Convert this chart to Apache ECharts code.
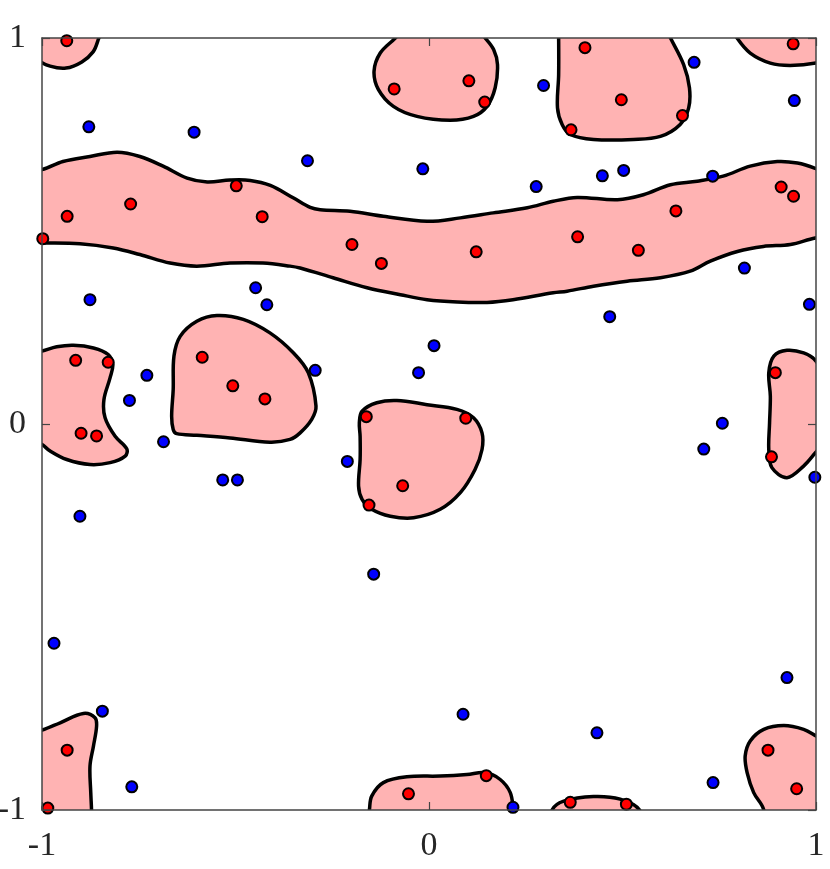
<!DOCTYPE html>
<html>
<head>
<meta charset="utf-8">
<script src="https://cdn.jsdelivr.net/npm/echarts@6/dist/echarts.min.js"></script>
<style>
  html, body { margin: 0; padding: 0; background: #fff; }
  #chart { width: 830px; height: 869px; }
</style>
</head>
<body>
<div id="chart"></div>
<script>
// tick labels
const ticks = [-1, 0, 1];

// points
const redPoints = [
  [-0.936, 0.993], [-0.090, 0.868], [0.103, 0.889], [0.144, 0.834],
  [0.403, 0.975], [0.497, 0.840], [0.655, 0.799], [0.367, 0.762], [0.941, 0.985],
  [-0.935, 0.538], [-0.998, 0.480], [-0.771, 0.570], [-0.498, 0.617], [-0.431, 0.537],
  [-0.199, 0.465], [-0.123, 0.416], [0.122, 0.446], [0.384, 0.485], [0.541, 0.450],
  [0.638, 0.552], [0.910, 0.614], [0.942, 0.590],
  [-0.913, 0.165], [-0.829, 0.160], [-0.899, -0.024], [-0.859, -0.031],
  [-0.586, 0.173], [-0.507, 0.099], [-0.424, 0.065],
  [-0.162, 0.019], [0.095, 0.015], [-0.068, -0.160], [-0.155, -0.210],
  [0.895, 0.133], [0.885, -0.085],
  [-0.935, -0.845], [-0.985, -0.995], [-0.053, -0.958], [0.148, -0.911],
  [0.365, -0.980], [0.510, -0.985], [0.876, -0.845], [0.950, -0.945]
];
const bluePoints = [
  [-0.879, 0.770], [-0.607, 0.756], [-0.314, 0.682], [-0.016, 0.661], [0.277, 0.615],
  [0.296, 0.877], [0.685, 0.937], [0.944, 0.838], [0.448, 0.643], [0.503, 0.657],
  [0.733, 0.642], [0.815, 0.404], [0.983, 0.310], [0.467, 0.278], [-0.876, 0.322],
  [-0.448, 0.353], [-0.419, 0.309], [-0.729, 0.126], [-0.774, 0.061], [-0.686, -0.046],
  [-0.533, -0.145], [-0.495, -0.145], [-0.902, -0.239], [-0.294, 0.139], [0.013, 0.203],
  [-0.027, 0.133], [-0.211, -0.097], [-0.143, -0.389], [0.758, 0.002], [0.710, -0.065],
  [0.997, -0.138], [-0.969, -0.568], [-0.844, -0.744], [-0.768, -0.940], [0.088, -0.752],
  [0.217, -0.993], [0.434, -0.800], [0.734, -0.929], [0.925, -0.657]
];

// outlines of the shaded regions (parts beyond the frame are clipped)
const blobTopLeft = [
  [-0.845, 1.034], [-0.855, 0.995], [-0.868, 0.964], [-0.897, 0.938], [-0.938, 0.922],
  [-0.979, 0.927], [-1.010, 0.943], [-1.044, 0.982], [-1.031, 1.034]
];
const blobTopMid = [
  [-0.049, 1.042], [-0.087, 1.000], [-0.126, 0.961], [-0.142, 0.914], [-0.131, 0.867],
  [-0.092, 0.823], [-0.031, 0.797], [0.055, 0.787], [0.115, 0.797], [0.150, 0.823],
  [0.171, 0.871], [0.177, 0.931], [0.167, 0.970], [0.145, 1.000], [0.107, 1.042]
];
const blobTopRight = [
  [0.334, 1.042], [0.335, 1.000], [0.335, 0.905], [0.332, 0.819], [0.344, 0.776],
  [0.365, 0.750], [0.425, 0.737], [0.529, 0.737], [0.598, 0.745], [0.649, 0.776],
  [0.671, 0.819], [0.673, 0.871], [0.658, 0.931], [0.624, 1.000], [0.603, 1.042]
];
const blobCorner = [
  [0.779, 1.034], [0.796, 1.000], [0.830, 0.961], [0.882, 0.935], [0.933, 0.929],
  [1.000, 0.935], [1.037, 0.949], [1.050, 1.034]
];
const blobBand = [
  [-1.057, 0.654], [-1.000, 0.659], [-0.946, 0.680], [-0.876, 0.693], [-0.806, 0.704],
  [-0.747, 0.693], [-0.687, 0.668], [-0.625, 0.637], [-0.573, 0.627], [-0.514, 0.632],
  [-0.462, 0.631], [-0.410, 0.618], [-0.351, 0.586], [-0.307, 0.561], [-0.281, 0.555],
  [-0.204, 0.551], [-0.118, 0.538], [-0.005, 0.525], [0.081, 0.534], [0.166, 0.547],
  [0.254, 0.560], [0.321, 0.577], [0.383, 0.587], [0.487, 0.581], [0.554, 0.594],
  [0.624, 0.620], [0.693, 0.629], [0.760, 0.642], [0.830, 0.668], [0.900, 0.680],
  [0.952, 0.676], [0.998, 0.662], [1.050, 0.638],
  [1.050, 0.488], [0.998, 0.482], [0.934, 0.465], [0.864, 0.460], [0.797, 0.447],
  [0.727, 0.422], [0.675, 0.396], [0.598, 0.379], [0.512, 0.370], [0.425, 0.357],
  [0.357, 0.344], [0.321, 0.340], [0.217, 0.322], [0.150, 0.315], [0.073, 0.316],
  [-0.005, 0.322], [-0.074, 0.335], [-0.160, 0.353], [-0.248, 0.379], [-0.333, 0.404],
  [-0.359, 0.409], [-0.429, 0.417], [-0.514, 0.417], [-0.600, 0.409], [-0.669, 0.417],
  [-0.747, 0.439], [-0.816, 0.456], [-0.902, 0.467], [-1.000, 0.469], [-1.057, 0.470]
];
const blobLeft = [
  [-1.044, 0.180], [-1.000, 0.189], [-0.962, 0.200], [-0.919, 0.204], [-0.867, 0.197],
  [-0.829, 0.180], [-0.817, 0.154], [-0.824, 0.120], [-0.840, 0.063], [-0.837, 0.016],
  [-0.811, -0.032], [-0.781, -0.064], [-0.785, -0.083], [-0.824, -0.100], [-0.876, -0.105],
  [-0.936, -0.092], [-0.979, -0.070], [-1.000, -0.053], [-1.044, -0.027]
];
const blobMidLeft = [
  [-0.661, -0.014], [-0.665, 0.020], [-0.661, 0.089], [-0.659, 0.176], [-0.643, 0.227],
  [-0.600, 0.266], [-0.548, 0.281], [-0.480, 0.271], [-0.411, 0.236], [-0.350, 0.184],
  [-0.312, 0.133], [-0.292, 0.046], [-0.303, 0.012], [-0.333, -0.023], [-0.359, -0.040],
  [-0.411, -0.047], [-0.514, -0.036], [-0.600, -0.029], [-0.652, -0.025]
];
const blobCenter = [
  [-0.173, 0.033], [-0.135, 0.055], [-0.083, 0.061], [-0.005, 0.050], [0.072, 0.038],
  [0.115, 0.016], [0.137, -0.023], [0.137, -0.066], [0.119, -0.118], [0.081, -0.178],
  [0.029, -0.221], [-0.040, -0.243], [-0.100, -0.239], [-0.148, -0.221], [-0.173, -0.195],
  [-0.182, -0.161], [-0.178, -0.092], [-0.178, -0.032], [-0.180, 0.003]
];
const blobRight = [
  [1.050, 0.076], [1.000, 0.163], [0.968, 0.184], [0.925, 0.191], [0.891, 0.176],
  [0.878, 0.133], [0.882, 0.072], [0.880, 0.003], [0.878, -0.066], [0.886, -0.113],
  [0.925, -0.139], [0.968, -0.109], [0.998, -0.075], [1.050, -0.014]
];
const blobBottomLeft = [
  [-1.044, -0.803], [-1.000, -0.793], [-0.953, -0.774], [-0.893, -0.750], [-0.863, -0.761],
  [-0.859, -0.783], [-0.867, -0.834], [-0.876, -0.886], [-0.874, -0.955], [-0.872, -1.000],
  [-0.871, -1.050], [-1.044, -1.050]
];
const blobBottomMid = [
  [-0.160, -1.050], [-0.154, -1.000], [-0.148, -0.964], [-0.118, -0.929], [-0.057, -0.914],
  [0.029, -0.912], [0.098, -0.908], [0.145, -0.903], [0.184, -0.921], [0.210, -0.955],
  [0.218, -1.000], [0.223, -1.050]
];
const blobBottom = [
  [0.318, -1.000], [0.348, -0.977], [0.425, -0.965], [0.494, -0.972], [0.544, -1.000],
  [0.546, -1.050], [0.313, -1.050]
];
const blobBottomRight = [
  [0.865, -1.000], [0.839, -0.955], [0.822, -0.903], [0.817, -0.860], [0.830, -0.821],
  [0.865, -0.791], [0.917, -0.781], [0.968, -0.791], [1.000, -0.808], [1.050, -0.838],
  [1.050, -1.050], [0.861, -1.050]
];

const blobs = [
  blobTopLeft, blobTopMid, blobTopRight, blobCorner, blobBand, blobLeft, blobMidLeft,
  blobCenter, blobRight, blobBottomLeft, blobBottomMid, blobBottom, blobBottomRight
];

const chart = echarts.init(document.getElementById("chart"));

const frameColor = "#444";
const labelFont = {
  color: "#262626",
  fontSize: 34,
  fontFamily: "Liberation Serif",
};
const baseAxis = {
  type: "value",
  min: ticks[0],
  max: ticks[ticks.length - 1],
  interval: 1,
  z: 10,
  axisLine: { show: true, onZero: false, lineStyle: { color: frameColor, width: 1.5 } },
  axisTick: { show: true, inside: true, length: 8, lineStyle: { color: frameColor, width: 1.2 } },
  splitLine: { show: false },
};

chart.setOption({
  animation: false,
  backgroundColor: "#fff",
  grid: { left: 42, top: 38, width: 774, height: 772, outerBoundsMode: "none", containLabel: false },
  xAxis: [
    {
      ...baseAxis,
      position: "bottom",
      axisLabel: { ...labelFont, margin: 19, formatter: (v) => String(v) },
    },
    {
      ...baseAxis,
      position: "top",
      axisLabel: { show: false },
    },
  ],
  yAxis: [
    {
      ...baseAxis,
      position: "left",
      axisLabel: { ...labelFont, margin: 16, formatter: (v) => String(v) },
    },
    {
      ...baseAxis,
      position: "right",
      axisLabel: { show: false },
    },
  ],
  series: [
    {
      type: "custom",
      clip: true,
      silent: true,
      z: 1,
      data: blobs.map(() => [0, 0]),
      renderItem: (params, api) => {
        const pts = blobs[params.dataIndex].map((p) => api.coord(p));
        return {
          type: "polygon",
          shape: { points: pts, smooth: 0.35 },
          style: { fill: "#FFB3B3", stroke: "#000", lineWidth: 3.5 },
        };
      },
    },
    {
      type: "scatter",
      data: redPoints,
      symbolSize: 11,
      z: 3,
      itemStyle: { color: "#FF0000", borderColor: "#000", borderWidth: 2, opacity: 1 },
    },
    {
      type: "scatter",
      data: bluePoints,
      symbolSize: 11,
      z: 3,
      itemStyle: { color: "#0000FF", borderColor: "#000", borderWidth: 2, opacity: 1 },
    },
  ],
});
</script>
</body>
</html>
